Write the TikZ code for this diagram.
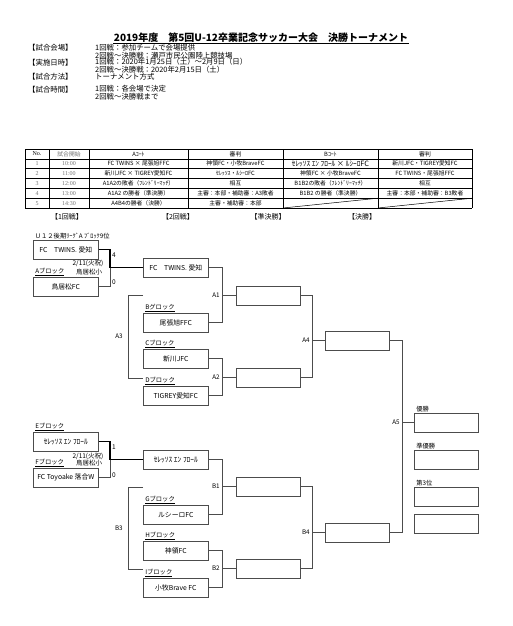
\documentclass[tikz,border=0pt]{standalone}
\usepackage{fontspec}
\setmainfont{Noto Sans CJK JP}
\newfontfamily\numfont{Liberation Serif}
\begin{document}
\begin{tikzpicture}[x=1pt,y=-1pt,
    team/.style={draw=black!70, line width=0.6pt, minimum width=65pt, minimum height=18.5pt, inner sep=0pt, anchor=north west, font=\fontsize{6.8}{8}\selectfont},
    res/.style={team, minimum width=64pt},
    blk/.style={anchor=south west, inner sep=0.6pt, font=\fontsize{6.3}{7}\selectfont},
    note/.style={inner sep=0pt, font=\fontsize{6.5}{7}\selectfont},
    tag/.style={inner sep=0pt, font=\fontsize{6.3}{7}\selectfont},
    head/.style={inner sep=0pt, font=\fontsize{7}{8}\selectfont},
    info/.style={anchor=west, inner sep=0pt, align=left, font=\fontsize{7.4}{8.2}\selectfont},
    cell/.style={inner sep=0pt, font=\fontsize{5.8}{6.5}\selectfont},
    gcell/.style={inner sep=0pt, text=black!55, font={\numfont\fontsize{6}{7}\selectfont}},
    wire/.style={draw=black!70, line width=0.6pt},
    win/.style={draw=black, line width=1.4pt}]
  \useasboundingbox (0,0) rectangle (512,626);

  \node[inner sep=0.5pt, font=\fontsize{10}{12}\selectfont\bfseries] (title) at (261,38) {2019年度　第5回U-12卒業記念サッカー大会　決勝トーナメント};
  \draw[line width=0.6pt] (title.south west) -- (title.south east);

  \node[info] (k1) at (28,48) {【試合会場】};
  \node[info] (v1) at (95,51.5) {1回戦：参加チームで会場提供\\2回戦～決勝戦：瀬戸市民公園陸上競技場};
  \node[info] (k2) at (28,63) {【実施日時】};
  \node[info] (v2) at (95,66) {1回戦：2020年1月25日（土）～2月9日（日）\\2回戦～決勝戦：2020年2月15日（土）};
  \node[info] (k3) at (28,77) {【試合方法】};
  \node[info] (v3) at (95,77) {トーナメント方式};
  \node[info] (k4) at (28,90) {【試合時間】};
  \node[info] (v4) at (95,93) {1回戦：各会場で決定\\2回戦～決勝戦まで};

  % table
  \foreach \i in {0,...,6} \draw[line width=0.5pt] (25,{149+9.83*\i}) -- (472,{149+9.83*\i});
  \foreach \x in {25,49,89,188,283,378,472} \draw[line width=0.5pt] (\x,149) -- (\x,208);
  \node[gcell, text=black] (n0) at (37,153.9) {No.};
  \node[cell, text=black!55] (tm0) at (69,153.9) {試合開始};
  \node[cell] (ca0) at (138.5,153.9) {Aｺｰﾄ};
  \node[cell] (ja0) at (235.5,153.9) {審判};
  \node[cell] (cb0) at (330.5,153.9) {Bｺｰﾄ};
  \node[cell] (jb0) at (425,153.9) {審判};
  \foreach \tm/\ca/\ja/\cb/\jb [count=\i] in {
      10:00/{FC TWINS × 尾張旭FFC}/{神領FC・小牧BraveFC}/{\fontsize{7.3}{8}\selectfont ｾﾚｯｿｽ ｴﾝ ﾌﾛｰﾙ × ﾙｼｰﾛFC}/{新川JFC・TIGREY愛知FC},
      11:00/{新川JFC × TIGREY愛知FC}/{ｾﾚｯｿｽ・ﾙｼｰﾛFC}/{神領FC × 小牧BraveFC}/{FC TWINS・尾張旭FFC},
      12:00/{A1A2の敗者（ﾌﾚﾝﾄﾞﾘｰﾏｯﾁ）}/{相互}/{B1B2の敗者（ﾌﾚﾝﾄﾞﾘｰﾏｯﾁ）}/{相互},
      13:00/{A1A2 の勝者（準決勝）}/{主審：本部・補助審：A3敗者}/{B1B2 の勝者（準決勝）}/{主審：本部・補助審：B3敗者}} {
    \node[gcell] (n\i) at (37,{153.9+9.83*\i}) {\i};
    \node[gcell] (tm\i) at (69,{153.9+9.83*\i}) {\tm};
    \node[cell] (ca\i) at (138.5,{153.9+9.83*\i}) {\ca};
    \node[cell] (ja\i) at (235.5,{153.9+9.83*\i}) {\ja};
    \node[cell] (cb\i) at (330.5,{153.9+9.83*\i}) {\cb};
    \node[cell] (jb\i) at (425,{153.9+9.83*\i}) {\jb};
  }
  \node[gcell] (n5) at (37,203.1) {5};
  \node[gcell] (tm5) at (69,203.1) {14:30};
  \node[cell] (ca5) at (138.5,203.1) {A4B4の勝者（決勝）};
  \node[cell] (ja5) at (235.5,203.1) {主審・補助審：本部};
  \draw[line width=0.5pt] (283,208) -- (378,198.2);
  \draw[line width=0.5pt] (378,208) -- (472,198.2);

  % bracket
  \node[head] (h1) at (67,217) {【1回戦】};
  \node[head] (h2) at (178,217) {【2回戦】};
  \node[head] (h3) at (268,217) {【準決勝】};
  \node[head] (h4) at (362,217) {【決勝】};

  \node[team] (r1a) at (33,240) {FC　TWINS. 愛知};
  \node[blk] (l1a) at ([xshift=1pt]r1a.north west) {Ｕ１２後期ﾘｰｸﾞA ﾌﾞﾛｯｸ9位};
  \node[team] (r1b) at (33,277) {鳥居松FC};
  \node[blk] (l1b) at ([xshift=1.5pt]r1b.north west) {\underline{Aブロック}};
  \node[note] (d1) at (88,263) {2/11(火祝)};
  \node[note] (p1) at (89,272) {鳥居松小};
  \node[team, font=\fontsize{7.4}{8}\selectfont] (r1c) at (33,432) {ｾﾚｯｿｽ ｴﾝ ﾌﾛｰﾙ};
  \node[blk] (l1c) at ([xshift=1.5pt]r1c.north west) {\underline{Eブロック}};
  \node[team] (r1d) at (33,468) {FC Toyoake 落合W};
  \node[blk] (l1d) at ([xshift=1.5pt]r1d.north west) {\underline{Fブロック}};
  \node[note] (d2) at (88,456) {2/11(火祝)};
  \node[note] (p2) at (89,463) {鳥居松小};

  \node[team] (r2a) at (143,258) {FC　TWINS. 愛知};
  \node[team] (r2b) at (143,313) {尾張旭FFC};
  \node[blk] (l2b) at ([xshift=1.5pt]r2b.north west) {\underline{Bグロック}};
  \node[team] (r2c) at (143,349) {新川JFC};
  \node[blk] (l2c) at ([xshift=1.5pt]r2c.north west) {\underline{Cブロック}};
  \node[team] (r2d) at (143,386) {TIGREY愛知FC};
  \node[blk] (l2d) at ([xshift=1.5pt]r2d.north west) {\underline{Dブロック}};
  \node[team, font=\fontsize{7.4}{8}\selectfont] (r2e) at (143,450) {ｾﾚｯｿｽ ｴﾝ ﾌﾛｰﾙ};
  \node[team] (r2f) at (143,505) {ルシーロFC};
  \node[blk] (l2f) at ([xshift=1.5pt]r2f.north west) {\underline{Gブロック}};
  \node[team] (r2g) at (143,541) {神領FC};
  \node[blk] (l2g) at ([xshift=1.5pt]r2g.north west) {\underline{Hブロック}};
  \node[team] (r2h) at (143,578) {小牧Brave FC};
  \node[blk] (l2h) at ([xshift=1.5pt]r2h.north west) {\underline{Iブロック}};

  \node[res] (qa1) at (236,286) {};
  \node[res] (qa2) at (236,368) {};
  \node[res] (qb1) at (236,477) {};
  \node[res] (qb2) at (236,559) {};
  \node[res] (fa) at (325,331) {};
  \node[res] (fb) at (325,523) {};
  \node[res] (w1) at (414,413) {};
  \node[blk] (lw1) at ([xshift=1.5pt]w1.north west) {優勝};
  \node[res] (w2) at (414,450) {};
  \node[blk] (lw2) at ([xshift=1.5pt]w2.north west) {準優勝};
  \node[res] (w3) at (414,487) {};
  \node[blk] (lw3) at ([xshift=1.5pt]w3.north west) {第3位};
  \node[res] (w4) at (414,514) {};

  % first round
  \draw[win] (r1a.east) -| ([xshift=-33pt]r2a.west) -- (r2a.west);
  \draw[wire] (r1b.east) -| ([xshift=-33pt]r2a.west);
  \node[note] (s1a) at (114,255) {4};
  \node[note] (s1b) at (114,282) {0};
  \draw[win] (r1c.east) -| ([xshift=-33pt]r2e.west) -- (r2e.west);
  \draw[wire] (r1d.east) -| ([xshift=-33pt]r2e.west);
  \node[note] (s1c) at (114,447) {1};
  \node[note] (s1d) at (114,475) {0};

  % second round
  \coordinate (a3t) at (143,295);
  \coordinate (a3b) at (143,378);
  \draw[wire] (a3t) -- ++(-15,0) |- (a3b) node[pos=0.25, left=5pt, tag] (la3) {A3};
  \coordinate (b3t) at (143,487);
  \coordinate (b3b) at (143,569);
  \draw[wire] (b3t) -- ++(-15,0) |- (b3b) node[pos=0.25, left=5pt, tag] (lb3) {B3};
  \draw[wire] (r2a.east) -- ++(14,0) |- (r2b.east);
  \draw[wire] (qa1.west) -- ++(-14,0) node[left=2pt, tag] (la1) {A1};
  \draw[wire] (r2c.east) -- ++(14,0) |- (r2d.east);
  \draw[wire] (qa2.west) -- ++(-14,0) node[left=2pt, tag] (la2) {A2};
  \draw[wire] (r2e.east) -- ++(14,0) |- (r2f.east);
  \draw[wire] (qb1.west) -- ++(-14,0) node[left=2pt, tag] (lb1) {B1};
  \draw[wire] (r2g.east) -- ++(14,0) |- (r2h.east);
  \draw[wire] (qb2.west) -- ++(-14,0) node[left=2pt, tag] (lb2) {B2};

  % semi final and final
  \draw[wire] (qa1.east) -- ++(12,0) |- (qa2.east);
  \draw[wire] (fa.west) -- ++(-13,0) node[left=2pt, tag] (la4) {A4};
  \draw[wire] (qb1.east) -- ++(12,0) |- (qb2.east);
  \draw[wire] (fb.west) -- ++(-13,0) node[left=2pt, tag] (lb4) {B4};
  \draw[wire] (fa.east) -- ++(13,0) |- (fb.east);
  \draw[wire] (w1.west) -- ++(-12,0) node[left=2pt, tag] (la5) {A5};
\end{tikzpicture}
\end{document}
